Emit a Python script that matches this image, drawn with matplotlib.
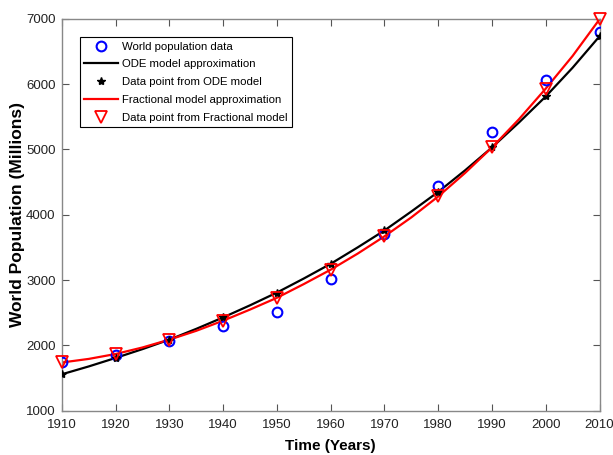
import matplotlib
matplotlib.use('Agg')
import matplotlib.pyplot as plt

plt.rcParams['font.family'] = ['Liberation Sans', 'DejaVu Sans']

# data
years = [1910, 1920, 1930, 1940, 1950, 1960, 1970, 1980, 1990, 2000, 2010]
world_pop = [1750, 1860, 2070, 2300, 2520, 3020, 3700, 4440, 5270, 6060, 6800]
ode_points = [1560, 1810, 2090, 2430, 2810, 3250, 3760, 4350, 5030, 5810, 6730]
frac_points = [1740, 1870, 2090, 2380, 2730, 3160, 3670, 4280, 5030, 5930, 6990]

# approximation curves, read every 5 years
curve_years = [1910, 1915, 1920, 1925, 1930, 1935, 1940, 1945, 1950, 1955, 1960,
               1965, 1970, 1975, 1980, 1985, 1990, 1995, 2000, 2005, 2010]
ode_curve = [1560, 1680, 1810, 1945, 2090, 2255, 2430, 2615, 2810, 3025, 3250,
             3500, 3760, 4050, 4350, 4680, 5030, 5410, 5810, 6250, 6730]
frac_curve = [1740, 1795, 1870, 1970, 2090, 2225, 2380, 2550, 2730, 2940, 3160,
              3405, 3670, 3960, 4280, 4640, 5030, 5460, 5930, 6430, 6990]

fig = plt.figure(figsize=(6.13, 4.55), dpi=100)
ax = fig.add_axes([0.101, 0.097, 0.877, 0.862])

ax.plot(years, world_pop, 'o', color='blue', mfc='none', ms=7, mew=1.5,
        label='World population data', zorder=3)
ax.plot(curve_years, ode_curve, '-', color='black', lw=1.6,
        label='ODE model approximation', zorder=2)
ax.plot(years, ode_points, '*', color='black', ms=6,
        label='Data point from ODE model', zorder=4)
ax.plot(curve_years, frac_curve, '-', color='red', lw=1.6,
        label='Fractional model approximation', zorder=2)
ax.plot(years, frac_points, 'v', color='red', mfc='none', ms=8, mew=1.3,
        label='Data point from Fractional model', zorder=5, clip_on=False)

ax.set_xlim(1910, 2010)
ax.set_ylim(1000, 7000)
ax.set_xticks(range(1910, 2011, 10))
ax.set_yticks(range(1000, 7001, 1000))

for s in ax.spines.values():
    s.set_color('#888888')
    s.set_linewidth(1.0)
ax.tick_params(direction='in', length=5, color='#555555', labelsize=9.5,
               top=True, right=True, labelcolor='#222222')
ax.tick_params(axis='x', pad=6)
ax.tick_params(axis='y', pad=4.5)

ax.set_xlabel('Time (Years)', fontsize=11, fontweight='bold', labelpad=5.5)
ax.set_ylabel('World Population (Millions)', fontsize=12.5, fontweight='bold', labelpad=1)

leg = ax.legend(loc='upper left', bbox_to_anchor=(0.033, 0.953), fontsize=8.2,
                frameon=True, fancybox=False, edgecolor='black', framealpha=1,
                handlelength=3.0, handletextpad=0.3, labelspacing=0.68,
                borderpad=0.4, borderaxespad=0)
leg.get_frame().set_linewidth(0.8)

fig.savefig('out.png', dpi=100)
